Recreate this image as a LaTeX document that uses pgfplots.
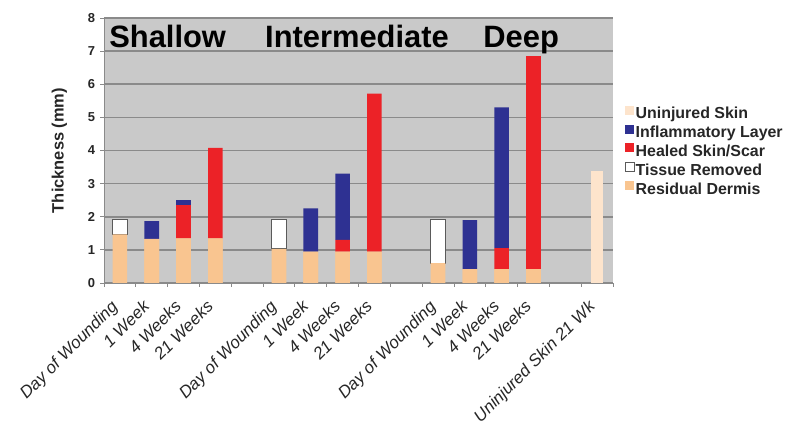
\documentclass[border=0pt]{standalone}
\usepackage{fontspec}
\setmainfont{Liberation Sans}
\usepackage{pgfplots}
\usepackage{pgfplotstable}
\pgfplotsset{compat=1.18}
\definecolor{bgc}{HTML}{C9C9C9}
\definecolor{gridc}{HTML}{8A8A8A}
\definecolor{axisc}{HTML}{8A8A8A}
\definecolor{resid}{HTML}{F9C590}
\definecolor{inflam}{HTML}{2E3192}
\definecolor{healed}{HTML}{EC2227}
\definecolor{uninj}{HTML}{FDE4CC}
\definecolor{boxc}{HTML}{5A5A5A}

% x: 0-3 shallow, 5-8 intermediate, 10-13 deep, 15 uninjured
\pgfplotstableread{
x  resid tissue healed inflam uninj
0  1.47  0.46   0      0      0
1  1.33  0      0      0.54   0
2  1.35  0      1.00   0.15   0
3  1.35  0      2.73   0      0
5  1.03  0.90   0      0      0
6  0.95  0      0      1.30   0
7  0.95  0      0.35   2.00   0
8  0.95  0      4.77   0      0
10 0.60  1.33   0      0      0
11 0.42  0      0      1.48   0
12 0.42  0      0.63   4.25   0
13 0.42  0      6.43   0      0
15 0     0      0      0      3.39
}\thick

\begin{document}
\begin{tikzpicture}
\useasboundingbox (0,0) rectangle (800bp,433bp);
\begin{axis}[
  at={(104bp,150bp)}, anchor=south west,
  scale only axis, width=509bp, height=265bp,
  ybar stacked, bar width=0.46,
  xmin=-0.5, xmax=15.5, ymin=0, ymax=8,
  axis background/.style={fill=bgc},
  axis lines*=left,
  axis line style={draw=axisc, line width=1bp},
  tick style={draw=axisc, line width=0.8bp},
  tick align=outside, major tick length=3.5bp,
  ymajorgrids, grid style={draw=gridc, line width=1.6bp},
  ytick={0,...,8},
  yticklabel style={font=\bfseries\fontsize{13}{13}\selectfont, text=black!85, xshift=-2bp},
  /pgf/number format/assume math mode=true,
  ylabel={\bfseries Thickness (mm)},
  ylabel style={font=\fontsize{16.5}{16.5}\selectfont, text=black!85},
  ylabel shift=14bp,
  xtick={-0.5,0.5,...,15.5}, xticklabels={},
  extra x ticks={0,1,2,3,5,6,7,8,10,11,12,13,15},
  extra x tick labels={Day of Wounding,1 Week,4 Weeks,21 Weeks,Day of Wounding,1 Week,4 Weeks,21 Weeks,Day of Wounding,1 Week,4 Weeks,21 Weeks,Uninjured Skin 21 Wk},
  extra x tick style={major tick length=0pt},
  xticklabel style={font=\itshape\fontsize{17}{17}\selectfont, text=black!85, anchor=north east, xshift=-10bp, yshift=-16bp, rotate=45, inner sep=0pt},
  legend style={at={(1.017,0.68)}, anchor=north west, draw=none, fill=none,
    font=\bfseries\fontsize{16}{16}\selectfont, text=black!85,
    row sep=0pt, cells={anchor=west},
    nodes={inner xsep=1bp, inner ysep=1.5bp, text height=12.5bp, text depth=3.3bp}},
  reverse legend,
  legend image code/.code={\path[#1] (0bp,-0.5bp) rectangle (9bp,8.5bp);},
]
\addplot[fill=resid, draw=none] table[x=x, y=resid] {\thick};
\addplot[fill=white, draw=boxc, line width=0.8bp] table[x=x, y=tissue] {\thick};
\addplot[fill=healed, draw=none] table[x=x, y=healed] {\thick};
\addplot[fill=inflam, draw=none] table[x=x, y=inflam] {\thick};
\addplot[fill=uninj, draw=none, bar width=0.4] table[x=x, y=uninj] {\thick};
% repaint residual dermis where no tissue was removed (hides zero-height box edges)
\addplot[stack plots=false, forget plot, fill=resid, draw=none] coordinates {(1,1.33)(2,1.35)(3,1.35)(6,0.95)(7,0.95)(8,0.95)(11,0.42)(12,0.42)(13,0.42)};
\legend{Residual Dermis, Tissue Removed, Healed Skin/Scar, Inflammatory Layer, Uninjured Skin}
\node[anchor=base west, inner sep=0pt, font=\bfseries\fontsize{31}{31}\selectfont] at (axis cs:-0.34,7.1) {Shallow};
\node[anchor=base west, inner sep=0pt, font=\bfseries\fontsize{31}{31}\selectfont] at (axis cs:4.56,7.1) {Intermediate};
\node[anchor=base west, inner sep=0pt, font=\bfseries\fontsize{31}{31}\selectfont] at (axis cs:11.42,7.1) {Deep};
\end{axis}
\end{tikzpicture}
\end{document}
